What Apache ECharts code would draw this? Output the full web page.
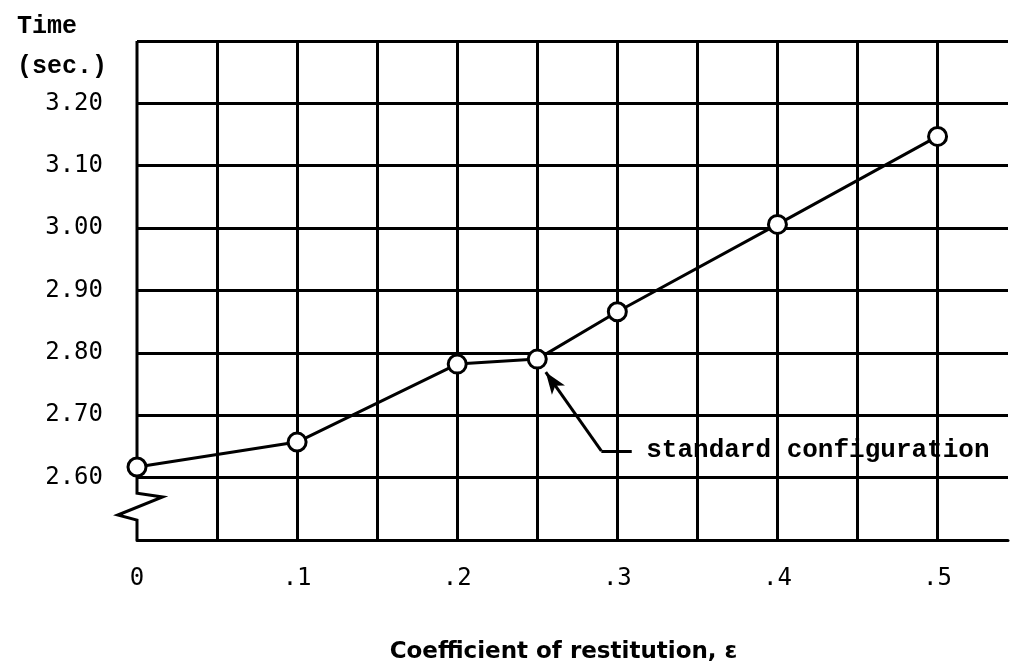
<!DOCTYPE html>
<html><head><meta charset="utf-8">
<script src="https://cdn.jsdelivr.net/npm/echarts@6/dist/echarts.min.js"></script>
<style>html,body{margin:0;padding:0;background:#fff}#c{width:1011px;height:669px}</style>
</head><body><div id="c"></div>
<script>
// data
const restitution = [0, 0.1, 0.2, 0.25, 0.3, 0.4, 0.5];
const timeSec = [2.617, 2.657, 2.782, 2.790, 2.866, 3.006, 3.147];
const xTickLabels = ['0', '.1', '.2', '.3', '.4', '.5'];
const yTickLabels = ['2.60', '2.70', '2.80', '2.90', '3.00', '3.10', '3.20'];
// left border with axis-break zigzag (data coordinates)
const leftBorderX = [0, 0, 0.016, -0.012, 0, 0];
const leftBorderY = [3.3, 2.575, 2.569, 2.540, 2.532, 2.5];
// annotation
const noteText = 'standard configuration';
const noteArrowTail = [0.290, 2.643];
const noteArrowHead = [0.2553, 2.769];
const noteLeaderEnd = [0.309, 2.643];

const mono = 'Liberation Mono';
const chart = echarts.init(document.getElementById('c'), null, {renderer: 'canvas'});
chart.setOption({
  backgroundColor: '#fff',
  animation: false,
  title: {
    text: 'Time\n(sec.)', left: 12, top: 2,
    textStyle: {fontFamily: mono, fontWeight: 'bold', fontSize: 25, lineHeight: 40, color: '#000'}
  },
  grid: {left: 137, right: 0, top: 41, bottom: 129, containLabel: false},
  xAxis: {
    type: 'value', min: 0, max: 0.544, interval: 0.05,
    name: 'Coefficient of restitution, ε', nameLocation: 'middle', nameGap: 101,
    nameTextStyle: {fontFamily: 'DejaVu Sans', fontWeight: 'bold', fontSize: 23, color: '#000', padding: [0, 18, 0, 0]},
    axisLine: {show: true, lineStyle: {color: '#000', width: 3}},
    axisTick: {show: false},
    splitLine: {show: true, showMinLine: false, showMaxLine: false, lineStyle: {color: '#000', width: 3}},
    axisLabel: {
      margin: 27, fontFamily: 'DejaVu Sans Mono', fontSize: 24, color: '#000',
      formatter: function (v) {
        const i = Math.round(v * 10);
        return Math.abs(v * 10 - i) < 1e-6 && i < xTickLabels.length ? xTickLabels[i] : '';
      }
    }
  },
  yAxis: {
    type: 'value', min: 2.5, max: 3.3, interval: 0.1,
    axisLine: {show: false},
    axisTick: {show: false},
    splitLine: {show: true, lineStyle: {color: '#000', width: 3}},
    axisLabel: {
      margin: 34, fontFamily: 'DejaVu Sans Mono', fontSize: 24, color: '#000',
      formatter: function (v) {
        const s = v.toFixed(2);
        return yTickLabels.indexOf(s) >= 0 ? s : '';
      }
    }
  },
  series: [
    {
      type: 'custom', name: 'border', clip: false, silent: true, z: 2,
      data: [0],
      renderItem: function (params, api) {
        const pts = leftBorderX.map((x, i) => api.coord([x, leftBorderY[i]]));
        return {type: 'polyline', shape: {points: pts}, style: {stroke: '#000', lineWidth: 3, fill: null}};
      }
    },
    {
      type: 'line', name: 'time', clip: false,
      data: restitution.map((x, i) => [x, timeSec[i]]),
      symbol: 'circle', symbolSize: 18,
      itemStyle: {color: '#fff', borderColor: '#000', borderWidth: 3},
      lineStyle: {color: '#000', width: 3}, z: 5,
      markLine: {
        silent: true, animation: false,
        lineStyle: {color: '#000', width: 3, type: 'solid'},
        label: {show: false},
        data: [
          [{coord: noteArrowTail, symbol: 'none'}, {coord: noteArrowHead, symbol: 'arrow', symbolSize: [12, 22]}],
          [{coord: noteArrowTail, symbol: 'none'}, {coord: noteLeaderEnd, symbol: 'none'}]
        ]
      }
    },
    {
      type: 'scatter', name: 'note', silent: true, symbolSize: 1,
      itemStyle: {color: 'rgba(0,0,0,0)'},
      data: [noteLeaderEnd],
      label: {
        show: true, position: 'right', distance: 14, formatter: noteText,
        fontFamily: mono, fontWeight: 'bold', fontSize: 26, color: '#000', opacity: 1
      }, z: 6
    }
  ]
});
</script></body></html>
